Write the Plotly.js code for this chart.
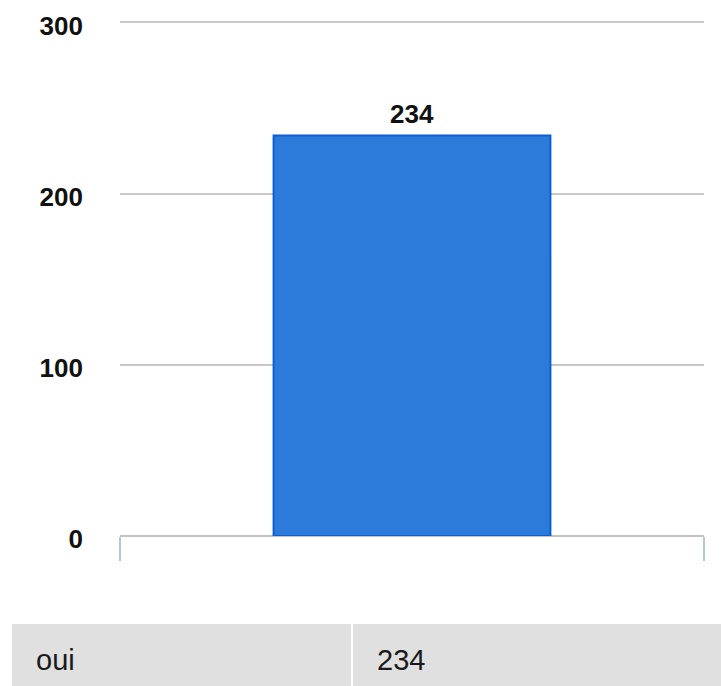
<!DOCTYPE html>
<html>
<head>
<meta charset="utf-8">
<script src="https://cdn.plot.ly/plotly-3.0.1.min.js"></script>
<style>html,body{margin:0;padding:0;background:#fff}#chart{width:721px;height:686px}</style>
</head>
<body>
<div id="chart"></div>
<script>
const categories = ["oui"];
const values = [234];
const yTicks = [0, 100, 200, 300];

const W = 721, H = 686;
const FONT = "Liberation Sans, Arial, sans-serif";
// y scale: 0 at 536px, 300 at 22.5px; range top extended a little so the 300 gridline is drawn
const Y0 = 536, PX_PER_UNIT = (536 - 22.5) / 300, YMAX = 303;
const yTopPx = Y0 - YMAX * PX_PER_UNIT;

const bar = {
  type: "bar",
  x: categories,
  y: values,
  width: 0.474,
  marker: {color: "#2c7ad9", line: {color: "#0a5fd4", width: 2}},
  hoverinfo: "x+y",
  xaxis: "x", yaxis: "y"
};

// data table under the chart: one table trace per column, the white gap between them is the separator
const tableColumns = [categories, values.map(String)];
const colDomains = [[12 / W, 351 / W], [353 / W, 1]];
const tables = tableColumns.map((col, i) => ({
  type: "table",
  domain: {x: colDomains[i], y: [0, (H - 624) / H]},
  header: {
    values: [[""]],
    height: 12,
    fill: {color: "#e0e0e0"},
    line: {width: 0, color: "#e0e0e0"},
    font: {family: FONT, size: 1, color: "#e0e0e0"}
  },
  cells: {
    values: [col.map(s => "&nbsp;&nbsp;" + s)],
    height: 52,
    align: "left",
    fill: {color: "#e0e0e0"},
    line: {width: 0, color: "#e0e0e0"},
    font: {family: FONT, size: 29, color: "#1a1a1a"}
  }
}));

const annotations = categories.map((c, i) => ({
  x: c, y: values[i], xref: "x", yref: "y",
  text: String(values[i]),
  showarrow: false, yanchor: "bottom", yshift: 4,
  font: {family: FONT, size: 26, color: "#111", weight: "bold"}
}));

const layout = {
  width: W, height: H,
  margin: {l: 0, r: 0, t: 0, b: 0},
  paper_bgcolor: "#fff", plot_bgcolor: "#fff",
  showlegend: false,
  xaxis: {
    domain: [120 / W, 704 / W],
    type: "category",
    showticklabels: false,
    showgrid: false,
    ticks: "outside", tickson: "boundaries", ticklen: 24, tickwidth: 2, tickcolor: "#b4c8dc",
    showline: false, zeroline: false, fixedrange: true
  },
  yaxis: {
    domain: [1 - Y0 / H, 1 - yTopPx / H],
    range: [0, YMAX],
    tickvals: yTicks,
    ticktext: yTicks.map(String),
    ticks: "",
    ticklabelstandoff: 36,
    ticklabelshift: 3,
    tickfont: {family: FONT, size: 26, color: "#111", weight: "bold"},
    showgrid: true, gridcolor: "#c8c8c8", gridwidth: 2,
    zeroline: true, zerolinecolor: "#c2c2c2", zerolinewidth: 2,
    showline: false, fixedrange: true
  },
  annotations: annotations
};

Plotly.newPlot("chart", [bar].concat(tables), layout, {displayModeBar: false, staticPlot: true});
</script>
</body>
</html>
